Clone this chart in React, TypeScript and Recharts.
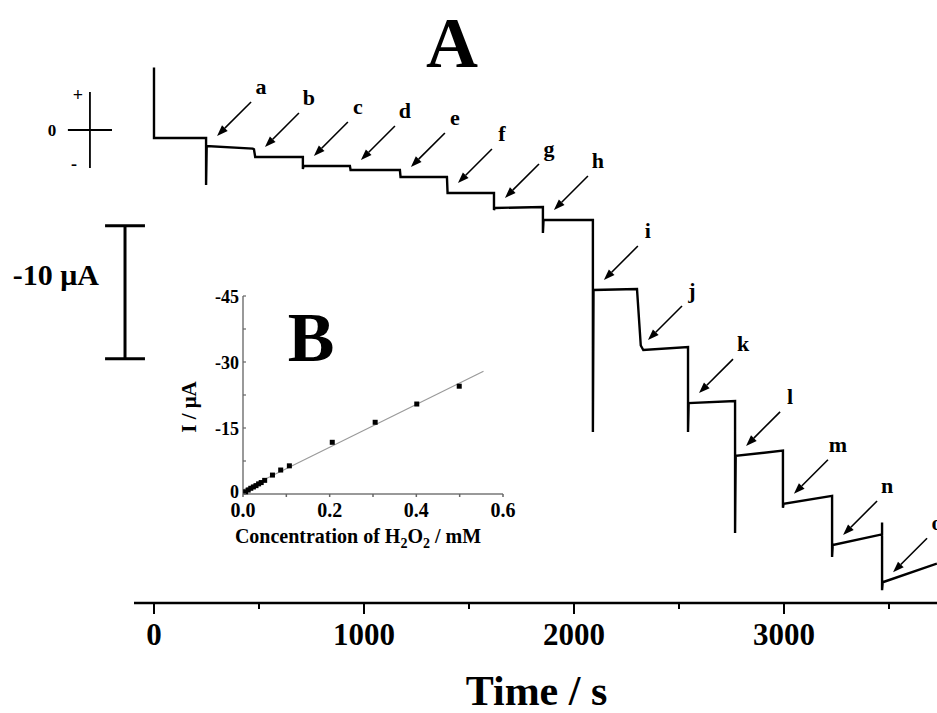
import React from 'react';
import { ComposedChart, Line, Scatter, XAxis, YAxis, ReferenceLine } from 'recharts';

// ---- Main amperometric trace (A) ----
const traceTime = [
  0, 0, 248, 248, 251, 470, 476, 482, 709, 709, 712, 933, 936, 1171, 1174, 1395, 1398,
  1619, 1619, 1622, 1852, 1852, 1855, 2090, 2090, 2093, 2300, 2318, 2330, 2543, 2543,
  2546, 2767, 2767, 2770, 2995, 2995, 2998, 3229, 3229, 3232, 3467, 3467, 3467, 3470, 3728,
];
const traceCurrent = [
  4.7, -0.6, -0.6, -4.14, -1.2, -1.4, -1.45, -2.03, -2.03, -2.93, -2.71, -2.71, -3.01, -3.01,
  -3.53, -3.53, -4.74, -4.74, -6.02, -5.86, -5.79, -7.74, -6.77, -6.77, -22.7, -12.03, -11.95,
  -16.2, -16.54, -16.32, -22.7, -20.53, -20.38, -30.3, -24.5, -24.1, -28.4, -28.1, -27.5,
  -32.1, -31.2, -30.4, -29.5, -34.6, -34.0, -32.6,
];
const stepTimes = [248, 476, 709, 933, 1171, 1395, 1619, 1852, 2090, 2300, 2543, 2767, 2995, 3229, 3467];
const stepLevels = [-1.2, -2.03, -2.71, -3.01, -3.53, -4.74, -5.86, -6.77, -12.03, -16.54, -20.53, -24.5, -28.1, -31.2, -34.0];
const stepLabels = ['a', 'b', 'c', 'd', 'e', 'f', 'g', 'h', 'i', 'j', 'k', 'l', 'm', 'n', 'o'];
const timeTicks = [0, 500, 1000, 1500, 2000, 2500, 3000, 3500];

// ---- Calibration inset (B) ----
const calibConc = [0.006, 0.012, 0.018, 0.024, 0.03, 0.036, 0.042, 0.05, 0.068, 0.087, 0.107, 0.206, 0.305, 0.401, 0.499];
const calibCurrent = [-0.5, -0.9, -1.3, -1.6, -1.9, -2.3, -2.6, -3.1, -4.3, -5.45, -6.4, -11.75, -16.3, -20.45, -24.5];
const fitConc = [0, 0.555];
const fitCurrent = [-0.9, -27.9];
const concTicks = [0, 0.1, 0.2, 0.3, 0.4, 0.5, 0.6];
const currentTicks = [0, -7.5, -15, -22.5, -30, -37.5, -45];

const traceData = traceTime.map((t, i) => ({ t, v: traceCurrent[i] }));
const arrowData = stepTimes.map((t, i) => ({ t, v: stepLevels[i], label: stepLabels[i] }));
const calibData = calibConc.map((c, i) => ({ c, v: calibCurrent[i] }));
const fitData = fitConc.map((c, i) => ({ c, v: fitCurrent[i] }));

const FONT = '"Liberation Serif", "Times New Roman", serif';
const T_MIN = -733.3;
const T_MAX = 3728.6;
const V_MIN = -35.56;
const V_MAX = 5.263;

const MainTick = (props: any) => {
  const { x, y, payload } = props;
  const major = payload.value % 1000 === 0;
  return (
    <g>
      <line x1={x} y1={y} x2={x} y2={y + (major ? 11 : 6)} stroke="#000" strokeWidth={2} />
      {major && (
        <text x={x} y={y + 42} textAnchor="middle" fontFamily={FONT} fontWeight="bold" fontSize={31} fill="#000">
          {payload.value}
        </text>
      )}
    </g>
  );
};

const renderTimeLabel = (props: any) => {
  const vb = props.viewBox || { x: 0, y: 603, width: 937, height: 110 };
  return (
    <text x={vb.x + vb.width / 2 + 68} y={vb.y + 102} textAnchor="middle" fontFamily={FONT} fontWeight="bold" fontSize={42} fill="#000">
      Time / s
    </text>
  );
};

const ArrowShape = (props: any) => {
  const { cx, cy, payload } = props;
  if (cx == null || cy == null) return <g />;
  const d = Math.SQRT1_2;
  const tx = cx + 11;
  const ty = cy - 10;
  const sx = tx + 34;
  const sy = ty - 34;
  const L = 11;
  const W = 4;
  const bx = tx + L * d;
  const by = ty - L * d;
  const pts = `${tx},${ty} ${bx + W * d},${by + W * d} ${bx - W * d},${by - W * d}`;
  return (
    <g>
      <line x1={sx} y1={sy} x2={bx} y2={by} stroke="#000" strokeWidth={1.6} />
      <polygon points={pts} fill="#000" />
      <text x={sx + 10} y={sy - 8} textAnchor="middle" fontFamily={FONT} fontWeight="bold" fontSize={22} fill="#000">
        {payload.label}
      </text>
    </g>
  );
};

const InsetXTick = (props: any) => {
  const { x, y, payload } = props;
  const major = Math.round(payload.value * 10) % 2 === 0;
  return (
    <g>
      <line x1={x} y1={y} x2={x} y2={y + 3} stroke="#666" strokeWidth={1.5} />
      {major && (
        <text x={x} y={y + 23} textAnchor="middle" fontFamily={FONT} fontWeight="bold" fontSize={20} fill="#000">
          {payload.value.toFixed(1)}
        </text>
      )}
    </g>
  );
};

const InsetYTick = (props: any) => {
  const { x, y, payload } = props;
  const major = Number.isInteger(payload.value);
  const lift = payload.value === 0 ? -3 : 0;
  return (
    <g>
      <line x1={x} y1={y} x2={x + 3} y2={y} stroke="#666" strokeWidth={1.2} />
      {major && (
        <text x={x - 4} y={y + 7 + lift} textAnchor="end" fontFamily={FONT} fontWeight="bold" fontSize={18} fill="#000">
          {payload.value}
        </text>
      )}
    </g>
  );
};

const renderConcLabel = (props: any) => {
  const vb = props.viewBox || { x: 93, y: 224, width: 260, height: 50 };
  return (
    <text x={vb.x + 115} y={vb.y + 49} textAnchor="middle" fontFamily={FONT} fontWeight="bold" fontSize={20} fill="#000">
      Concentration of H
      <tspan fontSize={14} dy={5}>2</tspan>
      <tspan dy={-5}>O</tspan>
      <tspan fontSize={14} dy={5}>2</tspan>
      <tspan dy={-5}> / mM</tspan>
    </text>
  );
};

const renderCurrentLabel = (props: any) => {
  const vb = props.viewBox || { x: 33, y: 26, width: 60, height: 198 };
  const X = vb.x + 13;
  const Y = vb.y + vb.height / 2 + 12;
  return (
    <text x={X} y={Y} transform={`rotate(-90, ${X}, ${Y})`} textAnchor="middle" fontFamily={FONT} fontWeight="bold" fontSize={21} fill="#000">
      I / μA
    </text>
  );
};

const SquareDot = (props: any) => {
  const { cx, cy } = props;
  if (cx == null || cy == null) return <g />;
  return <rect x={cx - 2.5} y={cy - 2.5} width={5} height={5} fill="#000" />;
};

export default function App() {
  return (
    <div style={{ position: 'relative', width: 937, height: 713, background: '#fff', overflow: 'hidden' }}>
      <style>{`body{margin:0;background:#fff;}`}</style>
      <ComposedChart width={937} height={713} margin={{ top: 60, right: 0, bottom: 0, left: 0 }}>
        <XAxis
          type="number"
          dataKey="t"
          domain={[T_MIN, T_MAX]}
          allowDataOverflow
          ticks={timeTicks}
          interval={0}
          axisLine={false}
          tickLine={false}
          tickSize={0}
          tickMargin={0}
          tick={<MainTick />}
          height={110}
          label={renderTimeLabel}
        />
        <YAxis type="number" dataKey="v" domain={[V_MIN, V_MAX]} allowDataOverflow hide />
        {/* x axis line */}
        <ReferenceLine segment={[{ x: -95.2, y: V_MIN }, { x: T_MAX, y: V_MIN }]} stroke="#000" strokeWidth={2.5} ifOverflow="visible" />
        {/* zero-current cross */}
        <ReferenceLine segment={[{ x: -305, y: 2.86 }, { x: -305, y: -2.86 }]} stroke="#000" strokeWidth={1.8} ifOverflow="visible" />
        <ReferenceLine segment={[{ x: -410, y: 0 }, { x: -200, y: 0 }]} stroke="#000" strokeWidth={1.8} ifOverflow="visible" />
        {/* 10 uA scale bar */}
        <ReferenceLine segment={[{ x: -138, y: -7.2 }, { x: -138, y: -17.2 }]} stroke="#000" strokeWidth={3} ifOverflow="visible" />
        <ReferenceLine segment={[{ x: -233, y: -7.2 }, { x: -43, y: -7.2 }]} stroke="#000" strokeWidth={3} ifOverflow="visible" />
        <ReferenceLine segment={[{ x: -233, y: -17.2 }, { x: -43, y: -17.2 }]} stroke="#000" strokeWidth={3} ifOverflow="visible" />
        <Line data={traceData} dataKey="v" type="linear" stroke="#000" strokeWidth={2.4} dot={false} activeDot={false} isAnimationActive={false} />
        <Scatter data={arrowData} dataKey="v" shape={ArrowShape} isAnimationActive={false} />
      </ComposedChart>

      <div style={{ position: 'absolute', left: 150, top: 270 }}>
        <ComposedChart width={400} height={300} margin={{ top: 26, right: 47, bottom: 26, left: 33 }}>
          <XAxis
            type="number"
            dataKey="c"
            domain={[0, 0.6]}
            ticks={concTicks}
            interval={0}
            axisLine={{ stroke: '#777', strokeWidth: 1.5 }}
            tickLine={false}
            tickSize={0}
            tickMargin={0}
            tick={<InsetXTick />}
            height={50}
            label={renderConcLabel}
          />
          <YAxis
            type="number"
            dataKey="v"
            domain={[-45, 0]}
            reversed
            ticks={currentTicks}
            interval={0}
            axisLine={{ stroke: '#777', strokeWidth: 1.5 }}
            tickLine={false}
            tickSize={0}
            tickMargin={0}
            tick={<InsetYTick />}
            width={60}
            label={renderCurrentLabel}
          />
          <Line data={fitData} dataKey="v" type="linear" stroke="#9a9a9a" strokeWidth={1.2} dot={false} activeDot={false} isAnimationActive={false} />
          <Scatter data={calibData} dataKey="v" shape={SquareDot} isAnimationActive={false} />
        </ComposedChart>
      </div>

      <svg width={937} height={713} style={{ position: 'absolute', left: 0, top: 0, pointerEvents: 'none' }}>
        <text x={452} y={67} textAnchor="middle" fontFamily={FONT} fontWeight="bold" fontSize={72} fill="#000">A</text>
        <text x={311} y={361} textAnchor="middle" fontFamily={FONT} fontWeight="bold" fontSize={70} fill="#000">B</text>
        <text x={99} y={285} textAnchor="end" fontFamily={FONT} fontWeight="bold" fontSize={30} fill="#000">-10 μA</text>
        <text x={52} y={136} textAnchor="middle" fontFamily={FONT} fontWeight="bold" fontSize={17} fill="#000">0</text>
        <text x={78} y={101} textAnchor="middle" fontFamily={FONT} fontWeight="bold" fontSize={18} fill="#000">+</text>
        <text x={74} y={170} textAnchor="middle" fontFamily={FONT} fontWeight="bold" fontSize={18} fill="#000">-</text>
      </svg>
    </div>
  );
}
